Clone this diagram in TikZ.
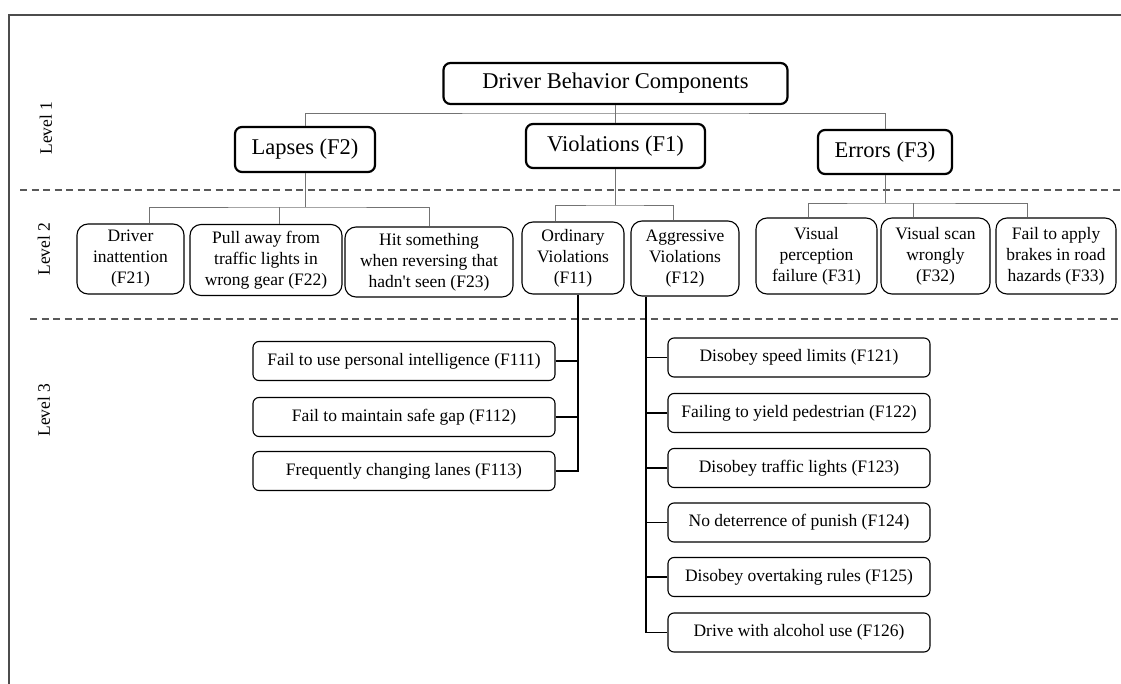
\documentclass[tikz,border=0pt]{standalone}
\usepackage{fontspec}
\setmainfont{Liberation Serif}
\begin{document}
\begin{tikzpicture}[x=1pt,y=-1pt,
  topbox/.style={draw, line width=2.2pt, rounded corners=7pt, inner sep=0pt, font=\fontsize{22.5}{26}\selectfont},
  midbox/.style={draw, line width=1.1pt, rounded corners=11pt, inner sep=0pt, align=center, font=\fontsize{17.5}{21}\selectfont},
  leafbox/.style={draw, line width=1.1pt, rounded corners=6pt, inner sep=0pt, minimum height=39pt, font=\fontsize{17.5}{21}\selectfont},
  link/.style={draw=black!55, line width=0.9pt},
  trunk/.style={draw=black, line width=1.4pt},
  levelline/.style={draw=black!65, line width=1.2pt, dash pattern=on 7pt off 4.5pt},
  levellabel/.style={rotate=90, font=\fontsize{17.5}{20}\selectfont}]
\useasboundingbox (0,0) rectangle (1121,684);
\draw[draw=black!70, line width=1.3pt] (1121,15) -- (9,15) -- (9,684);
\draw[levelline] (20,190) -- (1121,190);
\draw[levelline] (30,319) -- (1121,319);
\node[levellabel] (lv1) at (46,128) {Level 1};
\node[levellabel] (lv2) at (44,249) {Level 2};
\node[levellabel] (lv3) at (44,410) {Level 3};
\node[topbox, minimum width=344pt, minimum height=41pt] (root) at (615.5,83.5) {Driver Behavior Components};
\node[topbox, minimum width=140pt, minimum height=45pt] (lap) at (305,149.5) {Lapses (F2)};
\node[topbox, minimum width=179pt, minimum height=44pt] (vio) at (615.5,146) {Violations (F1)};
\node[topbox, minimum width=134pt, minimum height=44pt] (err) at (885,152) {Errors (F3)};
\node[midbox, minimum width=107pt, minimum height=70pt] (f21) at (130.5,259) {Driver\\inattention\\(F21)};
\node[midbox, minimum width=152pt, minimum height=71pt] (f22) at (266,260) {Pull away from\\traffic lights in\\wrong gear (F22)};
\node[midbox, minimum width=168pt, minimum height=70pt] (f23) at (429,262) {Hit something\\when reversing that\\hadn\textquotesingle t seen (F23)};
\node[midbox, minimum width=102pt, minimum height=72pt] (f11) at (573,258) {Ordinary\\Violations\\(F11)};
\node[midbox, minimum width=108pt, minimum height=75pt] (f12) at (685,258.5) {Aggressive\\Violations\\(F12)};
\node[midbox, minimum width=121pt, minimum height=76pt] (f31) at (816.5,256) {Visual\\perception\\failure (F31)};
\node[midbox, minimum width=109pt, minimum height=76pt] (f32) at (935.5,256) {Visual scan\\wrongly\\(F32)};
\node[midbox, minimum width=120pt, minimum height=76pt] (f33) at (1056,256) {Fail to apply\\brakes in road\\hazards (F33)};
\node[leafbox, minimum width=302pt] (f111) at (404,361) {Fail to use personal intelligence (F111)};
\node[leafbox, minimum width=302pt] (f112) at (404,417) {Fail to maintain safe gap (F112)};
\node[leafbox, minimum width=302pt] (f113) at (404,471) {Frequently changing lanes (F113)};
\node[leafbox, minimum width=262pt] (f121) at (799,357.5) {Disobey speed limits (F121)};
\node[leafbox, minimum width=262pt] (f122) at (799,413) {Failing to yield pedestrian (F122)};
\node[leafbox, minimum width=262pt] (f123) at (799,468) {Disobey traffic lights (F123)};
\node[leafbox, minimum width=262pt] (f124) at (799,522.5) {No deterrence of punish (F124)};
\node[leafbox, minimum width=262pt] (f125) at (799,577) {Disobey overtaking rules (F125)};
\node[leafbox, minimum width=262pt] (f126) at (799,632.5) {Drive with alcohol use (F126)};
\coordinate (b1) at (615.5,113);
\coordinate (b2) at (305,207);
\coordinate (b3) at (615.5,205);
\coordinate (b4) at (885,203);
\coordinate (d21) at ([xshift=19pt]f21.north);
\coordinate (d22) at ([xshift=13pt]f22.north);
\coordinate (d11) at ([xshift=-18pt]f11.north);
\coordinate (d12) at ([xshift=-12pt]f12.north);
\coordinate (d31) at ([xshift=-8.5pt]f31.north);
\coordinate (d32) at ([xshift=-22.5pt]f32.north);
\coordinate (d33) at ([xshift=-29pt]f33.north);
\coordinate (t11) at ([xshift=5pt]f11.south);
\coordinate (t12) at ([xshift=-39pt]f12.south);
\draw[link] (root) -- (vio);
\draw[link] (lap.north) |- (b1) -| (err.north);
\draw[link] (lap.south) -- (b2);
\draw[link] (d21) |- (b2) -| (f23.north);
\draw[link] (d22) -- (d22 |- b2);
\draw[link] (vio.south) -- (b3);
\draw[link] (d11) |- (b3) -| (d12);
\draw[link] (err.south) -- (b4);
\draw[link] (d31) |- (b4) -| (d33);
\draw[link] (d32) -- (d32 |- b4);
\draw[trunk] (t11) |- (f113.east);
\draw[trunk] (f111.east) -- (f111.east -| t11);
\draw[trunk] (f112.east) -- (f112.east -| t11);
\draw[trunk] (t12) |- (f126.west);
\draw[trunk] (f121.west) -- (f121.west -| t12);
\draw[trunk] (f122.west) -- (f122.west -| t12);
\draw[trunk] (f123.west) -- (f123.west -| t12);
\draw[trunk] (f124.west) -- (f124.west -| t12);
\draw[trunk] (f125.west) -- (f125.west -| t12);
\end{tikzpicture}
\end{document}
